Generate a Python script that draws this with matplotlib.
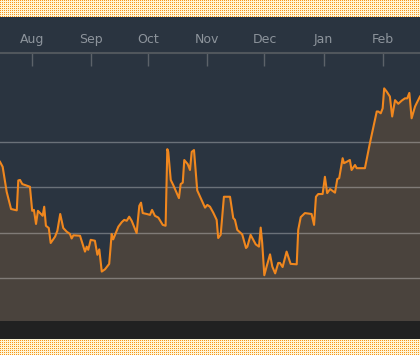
import numpy as np
import pandas as pd
import matplotlib
matplotlib.use("Agg")
import matplotlib.pyplot as plt
import matplotlib.dates as mdates
from matplotlib.patches import Rectangle

# days since start, and the price
start = pd.Timestamp("2015-07-15 05:00")
days = [0.0, 1.4, 3.5, 5.8, 8.8, 9.6, 10.5, 11.7, 15.7, 16.9, 17.8, 18.9, 19.9,
        22.4, 23.2, 24.1, 25.6, 26.6, 28.9, 30.1, 31.6, 33.2, 35.0, 36.7,
        37.6, 38.5, 42.0, 44.6, 45.5, 46.3, 47.6, 49.8, 51.1, 52.1, 53.4,
        55.1, 57.3, 58.6, 59.4, 62.1, 63.9, 65.2, 66.5, 67.8, 69.1, 71.7,
        73.1, 74.0, 74.9, 77.0, 78.7, 79.8, 81.3, 83.1, 85.4, 86.9, 87.8,
        88.3, 89.6, 90.9, 93.9, 94.8, 95.9, 96.7, 98.5, 99.7, 100.6, 101.8,
        103.5, 105.8, 107.6, 108.8, 110.2, 111.9, 113.7, 114.5, 115.8,
        117.5, 120.7, 122.4, 123.3, 124.5, 127.1, 129.1, 129.8, 131.5,
        134.2, 135.9, 136.8, 137.6, 138.7, 139.9, 141.7, 142.9, 144.4,
        146.0, 146.9, 148.3, 150.4, 152.5, 155.7, 156.5, 157.8, 160.0,
        163.5, 164.8, 165.8, 167.0, 169.3, 170.5, 171.7, 173.2, 175.8,
        177.0, 178.0, 179.8, 180.5, 181.9, 183.6, 184.5, 186.3, 187.2,
        191.5, 194.1, 197.7, 198.5, 199.8, 200.8, 201.6, 202.9, 204.6,
        205.8, 207.3, 209.0, 210.8, 212.5, 213.7, 214.8, 216.0, 217.8,
        218.6, 220.4]
price = [125.6, 124.5, 119.0, 115.2, 114.9, 121.5, 121.6, 120.7, 120.1, 114.8,
         115.0, 111.9, 114.8, 113.7, 115.7, 111.5, 111.0, 107.7, 109.1, 110.4,
         114.1, 111.0, 110.2, 109.7, 108.7, 109.4, 109.3, 105.8, 106.9, 106.2,
         108.4, 108.2, 105.1, 106.3, 101.4, 101.9, 103.1, 109.7, 108.5, 111.3,
         112.3, 112.8, 112.6, 113.5, 112.6, 109.9, 115.9, 116.6, 114.3, 114.1,
         113.9, 115.0, 113.7, 113.3, 111.7, 111.5, 128.4, 127.8, 121.6, 120.5,
         117.6, 120.7, 121.0, 126.0, 125.1, 123.8, 127.8, 128.2, 119.3, 117.2,
         115.5, 116.1, 115.7, 114.4, 112.8, 108.8, 109.5, 117.9, 117.9, 113.2,
         112.8, 110.6, 109.6, 106.6, 106.9, 109.5, 107.4, 106.9, 111.1, 107.7,
         100.6, 102.5, 105.2, 102.5, 101.0, 103.3, 103.3, 102.4, 105.8, 103.1,
         103.0, 110.6, 113.4, 114.3, 114.1, 111.7, 117.9, 118.5, 118.5, 122.3,
         118.7, 119.6, 118.8, 121.8, 122.0, 126.4, 125.3, 125.6, 126.0, 123.8,
         124.9, 124.2, 124.2, 129.7, 136.7, 136.7, 136.3, 137.4, 141.8, 141.1,
         140.0, 135.6, 139.2, 138.4, 139.1, 139.6, 139.6, 140.8, 135.2, 137.8,
         138.5, 140.0]
grid_levels = [100, 110, 120, 130]

dates = start + pd.to_timedelta(days, unit="D")
ymin, ymax = 90.5, 149.6

navy = "#2a3440"
fig = plt.figure(figsize=(4.2, 3.55), dpi=100)

# dotted page border behind the chart
h, w = 355, 420
yy, xx = np.mgrid[0:h, 0:w]
pat = np.ones((h, w, 3))
pat[:] = np.array([255, 246, 214]) / 255
dots = (xx % 2 == 0) & (yy % 2 == 0)
pat[dots] = np.array([247, 148, 30]) / 255
fig.figimage(pat, 0, 0, zorder=-3)

fig.patches.append(Rectangle((0, 16 / 355), 1, 18 / 355, transform=fig.transFigure,
                             facecolor="#212121", edgecolor="none", zorder=-2))
fig.patches.append(Rectangle((0, 34 / 355), 1, 304 / 355, transform=fig.transFigure,
                             facecolor=navy, edgecolor="none", zorder=-2))

ax = fig.add_axes([0, 34 / 355, 1, 268 / 355])
ax.set_facecolor(navy)
ax.fill_between(dates, price, ymin, color="#4a433d", lw=0, zorder=1)
ax.plot(dates, price, color="#f0871e", lw=1.5, zorder=2)

ax.set_xlim(start, start + pd.Timedelta(days=220.4))
ax.set_ylim(ymin, ymax)

ax.set_yticks(grid_levels)
ax.yaxis.grid(True, color="white", alpha=0.3, lw=1)
ax.set_axisbelow("line")
ax.tick_params(axis="y", left=False, labelleft=False)

ax.xaxis.tick_top()
ax.xaxis.set_major_locator(mdates.MonthLocator())
ax.xaxis.set_major_formatter(mdates.DateFormatter("%b"))
ax.tick_params(axis="x", direction="in", length=9.5, width=1, color="#5c6269",
               labelcolor="#8d949c", labelsize=9, pad=5)

for s in ["left", "right", "bottom"]:
    ax.spines[s].set_visible(False)
ax.spines["top"].set_color("#50565c")
ax.spines["top"].set_linewidth(1.5)

fig.savefig("out.png", dpi=100)
